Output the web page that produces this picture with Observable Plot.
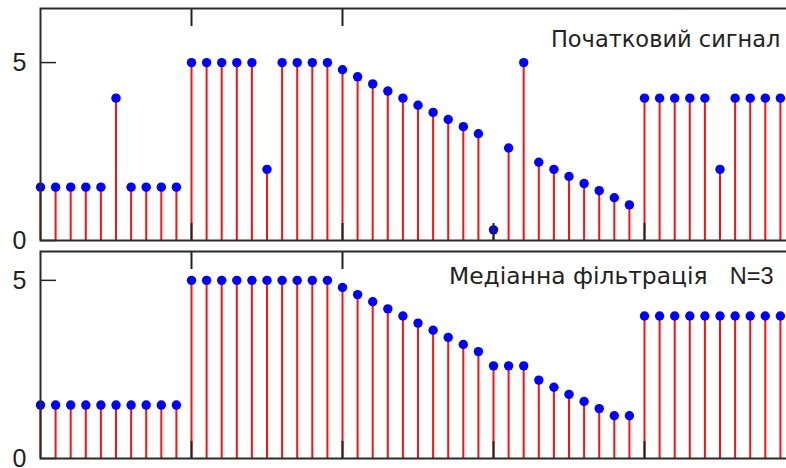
<!DOCTYPE html>
<html>
<head>
<meta charset="utf-8">
<script src="https://cdn.jsdelivr.net/npm/d3@7"></script>
<script src="https://cdn.jsdelivr.net/npm/@observablehq/plot@0.6"></script>
<style>
  html, body { margin: 0; padding: 0; background: #fff; width: 786px; height: 468px; overflow: hidden; }
  #top, #bot { position: absolute; left: 0; }
  #top { top: 0; }
  #bot { top: 245px; }
  svg { max-width: none !important; }
</style>
</head>
<body>
<div id="top"></div>
<div id="bot"></div>
<script>
// sample indices
const samples = d3.range(50);
// original signal
const original = [
  1.5, 1.5, 1.5, 1.5, 1.5, 4.0, 1.5, 1.5, 1.5, 1.5,
  5.0, 5.0, 5.0, 5.0, 5.0, 2.0, 5.0, 5.0, 5.0, 5.0,
  4.8, 4.6, 4.4, 4.2, 4.0, 3.8, 3.6, 3.4, 3.2, 3.0,
  0.3, 2.6, 5.0, 2.2, 2.0, 1.8, 1.6, 1.4, 1.2, 1.0,
  4.0, 4.0, 4.0, 4.0, 4.0, 2.0, 4.0, 4.0, 4.0, 4.0
];
// median-filtered signal (N=3)
const filtered = [
  1.5, 1.5, 1.5, 1.5, 1.5, 1.5, 1.5, 1.5, 1.5, 1.5,
  5.0, 5.0, 5.0, 5.0, 5.0, 5.0, 5.0, 5.0, 5.0, 5.0,
  4.8, 4.6, 4.4, 4.2, 4.0, 3.8, 3.6, 3.4, 3.2, 3.0,
  2.6, 2.6, 2.6, 2.2, 2.0, 1.8, 1.6, 1.4, 1.2, 1.2,
  4.0, 4.0, 4.0, 4.0, 4.0, 4.0, 4.0, 4.0, 4.0, 4.0
];
const xDomain = [0, 50];
const yTicks = [0, 5];
const xTicksBottom = [10, 20, 30, 40];
const xTicksTop = [10, 20];
const topTitle = "Початковий сигнал";
const botTitle = "Медіанна фільтрація";
const botN = "N=3";

const titleFont = "DejaVu Sans";
const tickFont = "Liberation Sans";

function panel(values, yMax, height, mTop, mBottom, texts) {
  const data = samples.map((n, i) => ({n, v: values[i]}));
  return Plot.plot({
    width: 800,
    height,
    marginLeft: 40,
    marginRight: 5,
    marginTop: mTop,
    marginBottom: mBottom,
    style: {background: "transparent", overflow: "visible", maxWidth: "none"},
    x: {domain: xDomain, axis: null},
    y: {domain: [0, yMax], axis: null},
    marks: [
      Plot.ruleX(data, {x: "n", y1: 0, y2: "v", stroke: "#ff1010", strokeWidth: 2}),
      Plot.dot(data, {x: "n", y: "v", r: 4.7, fill: "#0000ff", stroke: "none"}),
      Plot.axisX({anchor: "bottom", ticks: xTicksBottom, tickSize: -17, tickFormat: () => "", label: null, stroke: "#222", strokeWidth: 2}),
      Plot.axisX({anchor: "top", ticks: xTicksTop, tickSize: -17, tickFormat: () => "", label: null, stroke: "#222", strokeWidth: 2}),
      // inward y ticks
      Plot.axisY({anchor: "left", ticks: yTicks, tickSize: 16, dx: 16, tickFormat: () => "", label: null, stroke: "#222", strokeWidth: 1.5}),
      // y tick labels
      Plot.axisY({anchor: "left", ticks: yTicks, tickSize: 0, tickPadding: 14, tickFormat: d => String(d), label: null, fontSize: 25, fontFamily: tickFont, fill: "#222", dy: 0.5}),
      Plot.frame({stroke: "#2a2a2a", strokeWidth: 2}),
      ...texts
    ]
  });
}

const topPlot = panel(original, 6.52, 250, 8, 10, [
  Plot.text([topTitle], {text: d => d, frameAnchor: "top-right", textAnchor: "end", lineAnchor: "top", dx: -15, dy: 23, fontSize: 22.5, fontFamily: titleFont, fill: "#222"})
]);
const botPlot = panel(filtered, 5.81, 223, 6, 10, [
  Plot.text([botTitle], {text: d => d, frameAnchor: "top-right", textAnchor: "end", lineAnchor: "top", dx: -88, dy: 16, fontSize: 23.4, fontFamily: titleFont, fill: "#222"}),
  Plot.text([botN], {text: d => d, frameAnchor: "top-right", textAnchor: "end", lineAnchor: "top", dx: -22, dy: 16, fontSize: 23.5, fontFamily: tickFont, fill: "#222"})
]);
document.getElementById("top").appendChild(topPlot);
document.getElementById("bot").appendChild(botPlot);
</script>
</body>
</html>
